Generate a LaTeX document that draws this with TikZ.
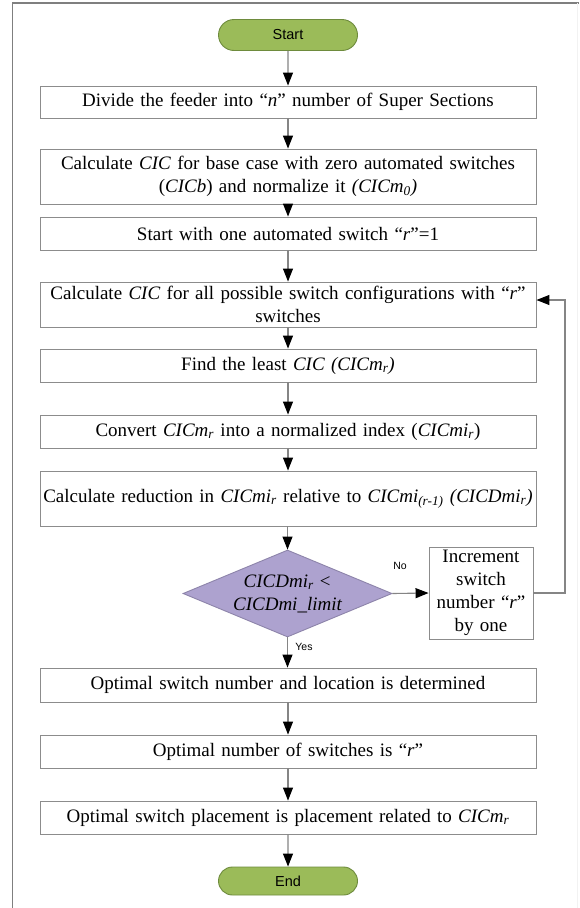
\documentclass[tikz,border=0pt]{standalone}
\usepackage{fontspec}
\setmainfont{Liberation Serif}
\newfontfamily\arialfont{Liberation Sans}
\usetikzlibrary{arrows.meta,shapes.geometric,shapes.misc}
\definecolor{boxline}{HTML}{8C8C8C}
\definecolor{linkline}{HTML}{858585}
\definecolor{ovalfill}{HTML}{9BBB59}
\definecolor{ovalline}{HTML}{6E8B3D}
\definecolor{decfill}{HTML}{ADA2CF}
\definecolor{decline}{HTML}{8D84AA}
\definecolor{frameline}{HTML}{7F7F7F}
\newcommand{\sub}[1]{\textsubscript{\textit{#1}}}
\tikzset{
  procbox/.style={draw=boxline, line width=0.9pt, fill=white, minimum width=496pt,
    text width=490pt, align=center, inner sep=0pt, font=\fontsize{19}{23}\selectfont},
  termoval/.style={draw=ovalline, line width=0.9pt, fill=ovalfill, rounded rectangle,
    minimum width=139pt, minimum height=31pt, inner sep=0pt, font=\arialfont\fontsize{14.5}{16}\selectfont},
  decshape/.style={draw=decline, line width=0.9pt, fill=decfill, diamond, aspect=2.4,
    minimum width=209pt, minimum height=87pt, inner sep=0pt},
  link/.style={draw=linkline, line width=1.1pt, -{Triangle[length=13pt,width=10pt,color=black]}},
  smalllab/.style={font=\arialfont\fontsize{10.5}{12}\selectfont, inner sep=0pt}
}
\begin{document}
\begin{tikzpicture}[x=1pt,y=-1pt]
\useasboundingbox (0,0) rectangle (579,908);
\fill[white] (0,0) rectangle (579,908);
% frame
\draw[frameline, line width=1.6pt] (12.5,908) -- (12.5,2.7) -- (579,2.7);
\draw[black!5, line width=1pt] (577,2.7) -- (577,908);

\node[termoval] (start) at (288,35) {Start};
\node[procbox, minimum height=32pt] (b1) at (288,102) {Divide the feeder into “\textit{n}” number of Super Sections};
\node[procbox, minimum height=55pt] (b2) at (288,176.5) {Calculate \textit{CIC} for base case with zero automated switches\\(\textit{CICb}) and normalize it \textit{(CICm\sub{0})}};
\node[procbox, minimum height=33pt] (b3) at (288,233.5) {Start with one automated switch “\textit{r}”=1};
\node[procbox, minimum height=45pt] (b4) at (288,304.5) {Calculate \textit{CIC} for all possible switch configurations with “\textit{r}”\\switches};
\node[procbox, minimum height=33pt] (b5) at (288,365.5) {Find the least \textit{CIC (CICm\sub{r})}};
\node[procbox, minimum height=33pt] (b6) at (288,431.5) {Convert \textit{CICm\sub{r}} into a normalized index (\textit{CICmi\sub{r}})};
\node[procbox, minimum height=55pt] (b7) at (288,498.5) {Calculate reduction in \textit{CICmi\sub{r}} relative to \textit{CICmi\sub{(r-1)} (CICDmi\sub{r})}};
\node[decshape] (dec) at (287.5,593.5) {};
\node[font=\fontsize{19}{23}\selectfont\itshape, align=center, inner sep=0pt] (dectext) at (dec) {CICDmi\sub{r} <\\CICDmi\_limit};
\node[draw=boxline, line width=0.9pt, fill=white, minimum width=104pt, minimum height=92pt,
  text width=102pt, align=center, inner sep=0pt, font=\fontsize{19}{23}\selectfont] (inc) at (481,593) {Increment\\switch\\number “\textit{r}”\\by one};
\node[procbox, minimum height=34pt] (b8) at (288,685) {Optimal switch number and location is determined};
\node[procbox, minimum height=33pt] (b9) at (288,751.5) {Optimal number of switches is “\textit{r}”};
\node[procbox, minimum height=33pt] (b10) at (288,817.5) {Optimal switch placement is placement related to \textit{CICm\sub{r}}};
\node[termoval, minimum height=28pt] (end) at (288,881) {End};

\draw[link] (start) -- (b1);
\draw[link] (b1) -- (b2);
\draw[link] (b2) -- (b3);
\draw[link] (b3) -- (b4);
\draw[link] (b4) -- (b5);
\draw[link] (b5) -- (b6);
\draw[link] (b6) -- (b7);
\draw[link] (b7.south -| dec.north) -- (dec.north);
\draw[link] (dec.south) -- (b8.north -| dec.south);
\draw[link] (dec.east) -- (inc.west);
\coordinate (loopc) at (565,593);
\draw[link] (inc.east) -- (loopc) |- (b4.east |- 0,300);
\node[smalllab] (yes) at (304,647) {Yes};
\node[smalllab] (no) at (400,566) {No};
\draw[link] (b8) -- (b9);
\draw[link] (b9) -- (b10);
\draw[link] (b10) -- (end);
\end{tikzpicture}
\end{document}
